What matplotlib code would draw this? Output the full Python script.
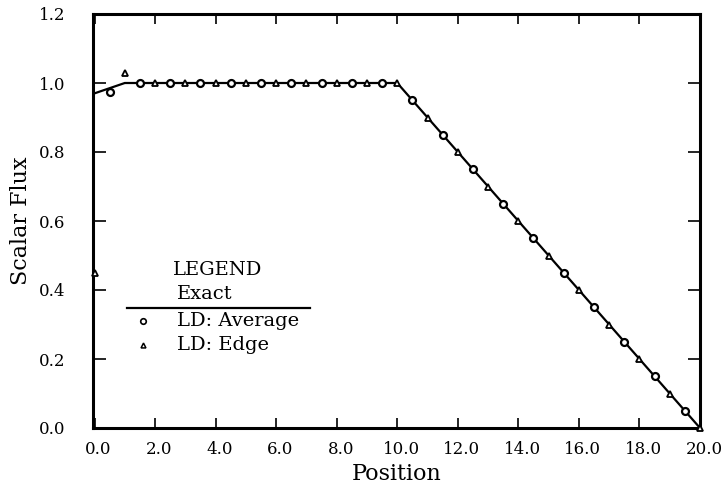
import matplotlib
matplotlib.use('Agg')
import matplotlib.pyplot as plt
import matplotlib.transforms as mtransforms

# ----- Donnees -----
exact_x = [0.0, 0.5, 1.0, 10.0, 20.0]
exact_y = [0.97, 0.985, 1.0, 1.0, 0.0]

avg_x = [0.5, 1.5, 2.5, 3.5, 4.5, 5.5, 6.5, 7.5, 8.5, 9.5,
         10.5, 11.5, 12.5, 13.5, 14.5, 15.5, 16.5, 17.5, 18.5, 19.5]
avg_y = [0.975, 1.0, 1.0, 1.0, 1.0, 1.0, 1.0, 1.0, 1.0, 1.0,
         0.95, 0.85, 0.75, 0.65, 0.55, 0.45, 0.35, 0.25, 0.15, 0.05]

edge_x = [0, 1, 2, 3, 4, 5, 6, 7, 8, 9, 10,
          11, 12, 13, 14, 15, 16, 17, 18, 19, 20]
edge_y = [0.45, 1.03, 1.0, 1.0, 1.0, 1.0, 1.0, 1.0, 1.0, 1.0, 1.0,
          0.9, 0.8, 0.7, 0.6, 0.5, 0.4, 0.3, 0.2, 0.1, 0.0]

x_ticks = [0, 2, 4, 6, 8, 10, 12, 14, 16, 18, 20]
y_ticks = [0.0, 0.2, 0.4, 0.6, 0.8, 1.0, 1.2]

plt.rcParams['font.family'] = ['DejaVu Serif']

W, H = 724, 491
fig = plt.figure(figsize=(W / 100, H / 100), dpi=100)
ax = fig.add_axes([93 / W, 1 - 428 / H, (700 - 93) / W, (428 - 14) / H])

ax.plot(exact_x, exact_y, color='black', lw=1.6, zorder=2)
ax.plot(avg_x, avg_y, ls='none', marker='o', ms=5, mfc='white',
        mec='black', mew=1.6, zorder=3, clip_on=False)
ax.plot(edge_x, edge_y, ls='none', marker='^', ms=4, mfc='white',
        mec='black', mew=1.3, zorder=3, clip_on=False)

ax.set_xlim(-0.05, 20.0)
ax.set_ylim(0.0, 1.2)
ax.set_xticks(x_ticks)
ax.set_xticklabels([f"{v:.1f}" for v in x_ticks])
ax.set_yticks(y_ticks)
ax.set_yticklabels([f"{v:.1f}" for v in y_ticks])

ax.tick_params(direction='in', top=True, right=True, labelsize=12,
               width=1.2, color='black')
ax.tick_params(axis='x', length=7, pad=9)
ax.tick_params(axis='y', length=9, pad=20)
for sp in ax.spines.values():
    sp.set_linewidth(2.2)

# decalage des etiquettes x vers la droite, comme sur l'original
off = mtransforms.ScaledTranslation(4 / 100, 0, fig.dpi_scale_trans)
for lab in ax.get_xticklabels():
    lab.set_transform(lab.get_transform() + off)

ax.set_xlabel("Position", fontsize=16, labelpad=4)
ax.set_ylabel("Scalar Flux", fontsize=16)
ax.yaxis.set_label_coords((32 - 93) / (700 - 93), 0.5)

# ----- Legende dessinee a la main -----
def px(x, y):
    return ((x - 93) / (700 - 93), (428 - y) / (428 - 14))

t = ax.transAxes
ax.text(*px(173, 270), "LEGEND", transform=t, fontsize=14, va='center', ha='left')
ax.text(*px(177, 294), "Exact", transform=t, fontsize=14, va='center', ha='left')
lx0, ly = px(127, 308)
lx1, _ = px(310, 308)
ax.plot([lx0, lx1], [ly, ly], color='black', lw=1.6, transform=t)
mx, my = px(143, 321)
ax.plot([mx], [my], marker='o', ms=4, mfc='white', mec='black', mew=1.2,
        transform=t)
ax.text(*px(177, 321), "LD: Average", transform=t, fontsize=14, va='center', ha='left')
mx, my = px(143, 345)
ax.plot([mx], [my], marker='^', ms=3.5, mfc='white', mec='black', mew=1.1,
        transform=t)
ax.text(*px(177, 345), "LD: Edge", transform=t, fontsize=14, va='center', ha='left')

fig.savefig("out.png", dpi=100)
